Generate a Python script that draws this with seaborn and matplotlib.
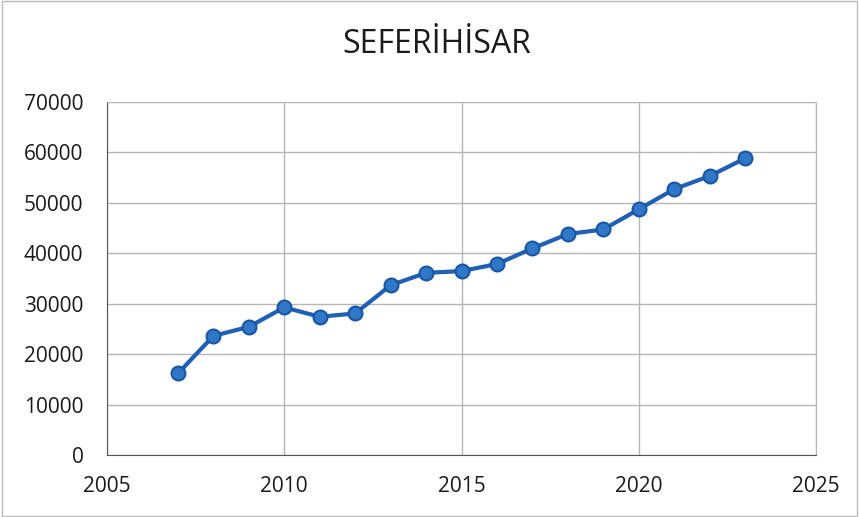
import matplotlib
matplotlib.use("Agg")
import matplotlib.pyplot as plt
import seaborn as sns
import pandas as pd

# population of Seferihisar by year
years = [2007, 2008, 2009, 2010, 2011, 2012, 2013, 2014, 2015,
         2016, 2017, 2018, 2019, 2020, 2021, 2022, 2023]
population = [16150, 23600, 25400, 29250, 27400, 28050, 33650, 36100, 36450,
              37850, 40950, 43800, 44700, 48700, 52700, 55300, 58800]
x_ticks = [2005, 2010, 2015, 2020, 2025]
y_ticks = [0, 10000, 20000, 30000, 40000, 50000, 60000, 70000]

df = pd.DataFrame({"year": years, "pop": population})

sns.set_style("white")
plt.rcParams["font.family"] = ["Open Sans", "DejaVu Sans"]

fig = plt.figure(figsize=(8.59, 5.17), dpi=100)
ax = fig.add_axes([0.1246, 0.12, 0.8254, 0.683])

sns.lineplot(data=df, x="year", y="pop", ax=ax, color="#1f5fb4", linewidth=3,
             marker="o", markersize=10, markerfacecolor="#2f78c8",
             markeredgecolor="#1a55a3", markeredgewidth=1.5)

ax.set_xlim(2005, 2025)
ax.set_ylim(0, 70000)
ax.set_xticks(x_ticks)
ax.set_yticks(y_ticks)
ax.grid(True, color="#b5b5b5", linewidth=1)
ax.set_axisbelow(True)
for side in ["top", "right"]:
    ax.spines[side].set_color("#b5b5b5")
for side in ["left", "bottom"]:
    ax.spines[side].set_color("#555555")
ax.tick_params(axis="both", length=0, labelsize=15, colors="#1a1a1a")
ax.tick_params(axis="x", pad=15)
ax.tick_params(axis="y", pad=17)
ax.set_xlabel("")
ax.set_ylabel("")

fig.text(0.508, 0.913, "SEFERİHİSAR", ha="center", va="center", fontsize=23, color="#1a1a1a")

fig.patches.append(plt.Rectangle((0.002, 0.002), 0.996, 0.996, transform=fig.transFigure,
                                 fill=False, edgecolor="#bbbbbb", linewidth=1))

fig.savefig("out.png", dpi=100)
